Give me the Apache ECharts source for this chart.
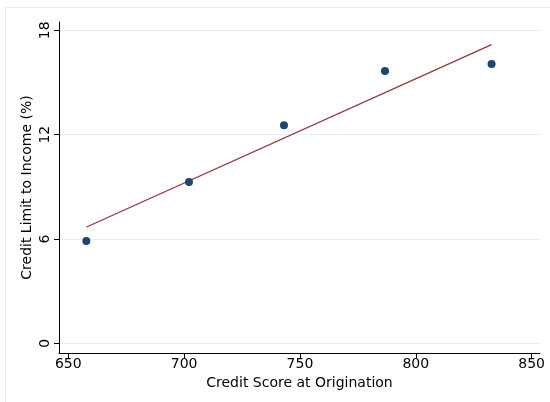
<!DOCTYPE html>
<html>
<head>
<meta charset="utf-8">
<script src="https://cdn.jsdelivr.net/npm/echarts@6/dist/echarts.min.js"></script>
<style>
html,body{margin:0;padding:0;background:#fff;}
#chart{width:550px;height:402px;}
</style>
</head>
<body>
<div id="chart"></div>
<script>
// Binned scatter: credit score vs credit limit to income
const creditScore = [657.8, 702.1, 743.1, 786.7, 832.7];
const limitToIncome = [5.88, 9.28, 12.54, 15.66, 16.06];
// Fitted line endpoints
const fitX = [657.9, 832.7];
const fitY = [6.69, 17.18];
const xTicks = [650, 700, 750, 800, 850];
const yTicks = [0, 6, 12, 18];

const font = 'DejaVu Sans';
const chart = echarts.init(document.getElementById('chart'), null, {renderer: 'canvas'});
chart.setOption({
  animation: false,
  backgroundColor: '#ffffff',
  graphic: [{
    type: 'rect', silent: true, z: -10,
    shape: {x: 5.5, y: 7.5, width: 600, height: 500},
    style: {fill: 'none', stroke: '#e6eaeb', lineWidth: 1}
  }],
  grid: {left: 59, top: 22, right: 10, bottom: 49, containLabel: false},
  xAxis: {
    type: 'value', min: 646, max: 853.6,
    name: 'Credit Score at Origination', nameLocation: 'middle', nameGap: 23,
    nameTextStyle: {fontFamily: font, fontSize: 14, color: '#000'},
    axisLine: {show: true, onZero: false, lineStyle: {color: '#000', width: 1}},
    axisTick: {show: true, length: 5, customValues: xTicks, lineStyle: {color: '#000'}},
    axisLabel: {customValues: xTicks, fontFamily: font, fontSize: 14, color: '#000', margin: 4},
    splitLine: {show: false}
  },
  yAxis: {
    type: 'value', min: -0.56, max: 18.48,
    name: 'Credit Limit to Income (%)', nameLocation: 'middle', nameGap: 25, nameRotate: 90,
    nameMoveOverlap: false,
    nameTextStyle: {fontFamily: font, fontSize: 14, color: '#000'},
    axisLine: {show: true, onZero: false, lineStyle: {color: '#000', width: 1}},
    axisTick: {show: true, length: 5, customValues: yTicks, lineStyle: {color: '#000'}},
    axisLabel: {customValues: yTicks, rotate: 90, fontFamily: font, fontSize: 14, color: '#000', margin: 7},
    splitLine: {show: false}
  },
  series: [
    {
      type: 'scatter', z: 3,
      data: creditScore.map((x, i) => [x, limitToIncome[i]]),
      symbolSize: 8,
      itemStyle: {color: '#1a476f', opacity: 1},
      markLine: {
        silent: true, symbol: 'none', label: {show: false}, z: 0,
        lineStyle: {color: '#e6eff2', width: 1, type: 'solid'},
        data: yTicks.map(v => ({yAxis: v}))
      }
    },
    {
      type: 'line', z: 2,
      data: fitX.map((x, i) => [x, fitY[i]]),
      showSymbol: false, symbol: 'none',
      lineStyle: {color: '#90353b', width: 1.2}
    }
  ]
});
</script>
</body>
</html>
